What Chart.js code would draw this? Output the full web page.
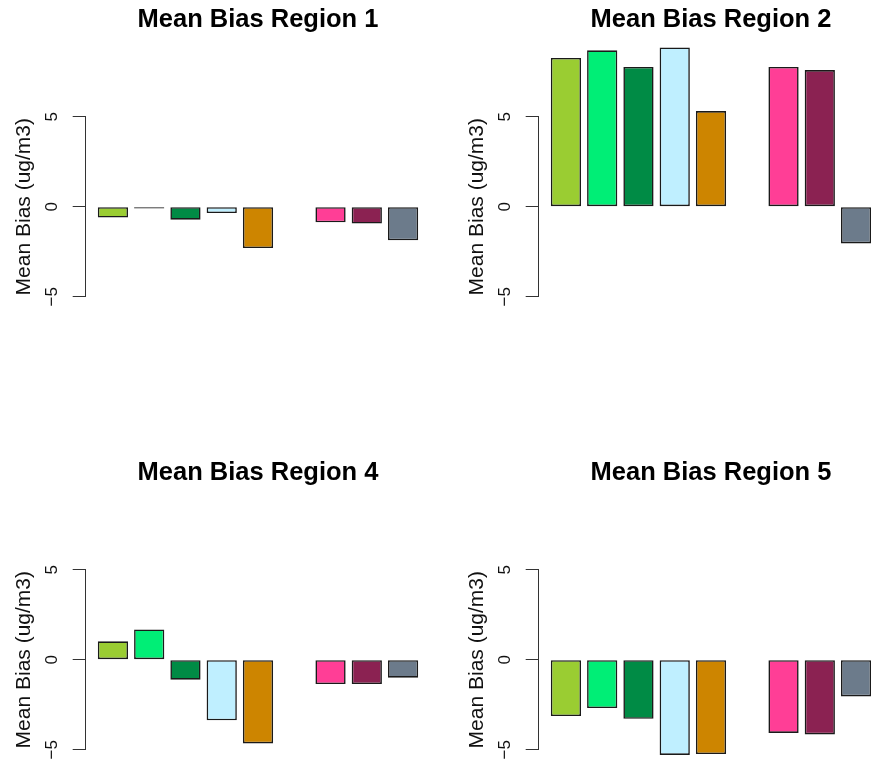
<!DOCTYPE html>
<html>
<head>
<meta charset="utf-8">
<script src="https://cdn.jsdelivr.net/npm/chart.js@4.4.1/dist/chart.umd.min.js"></script>
<style>
  html, body { margin: 0; padding: 0; background: #fff; }
  #fig { position: relative; width: 871px; height: 762px; overflow: hidden; background: #fff; }
  .panel { position: absolute; width: 454px; height: 454px; }
  .panel canvas { display: block; }
</style>
</head>
<body>
<div id="fig">
  <div class="panel" style="left:0px;top:0px"><canvas id="region1" width="454" height="454"></canvas></div>
  <div class="panel" style="left:453px;top:0px"><canvas id="region2" width="454" height="454"></canvas></div>
  <div class="panel" style="left:0px;top:453px"><canvas id="region4" width="454" height="454"></canvas></div>
  <div class="panel" style="left:453px;top:453px"><canvas id="region5" width="454" height="454"></canvas></div>
</div>
<script>
// Bar categories (slot 6 has no value and stays empty)
const categories = ['Case 1', 'Case 2', 'Case 3', 'Case 4', 'Case 5', 'Case 6', 'Case 7', 'Case 8', 'Case 9'];
const barColors = ['#9ACD32', '#00EE76', '#008B45', '#BFEFFF', '#CD8500', '#FFFFFF', '#FF3E96', '#8B2252', '#6C7B8B'];

// Mean bias per region (ug/m3)
const region1 = [-0.60, -0.10, -0.72, -0.35, -2.30, null, -0.87, -0.94, -1.87];
const region2 = [8.26, 8.69, 7.76, 8.85, 5.31, null, 7.76, 7.59, -2.04];
const region4 = [1.02, 1.68, -1.11, -3.37, -4.65, null, -1.35, -1.35, -1.00];
const region5 = [-3.13, -2.69, -3.28, -5.29, -5.24, null, -4.07, -4.15, -2.04];

const yTicks = [-5, 0, 5];
const panelTitles = ['Mean Bias Region 1', 'Mean Bias Region 2', 'Mean Bias Region 4', 'Mean Bias Region 5'];
const yAxisTitle = 'Mean Bias (ug/m3)';

Chart.defaults.font.family = '"Liberation Sans", Arial, Helvetica, sans-serif';
Chart.defaults.color = '#111';

// barplot-style x range: bars span slots, plus 4% padding on each side
const slotSpan = categories.length - 1 + 1 / 1.2;
const xPad = slotSpan * 0.04;
const xMin = -0.5 / 1.2 - xPad;
const xMax = categories.length - 1 + 0.5 / 1.2 + xPad;

function drawPanel(canvasId, title, values) {
  const ctx = document.getElementById(canvasId);
  new Chart(ctx, {
    type: 'bar',
    data: {
      datasets: [{
        data: values.map((v, i) => ({ x: i, y: v })),
        backgroundColor: barColors,
        borderColor: '#1a1a1a',
        borderWidth: 1.6,
        borderSkipped: false,
        inflateAmount: 0,
        categoryPercentage: 1,
        barPercentage: 1 / 1.2,
        clip: false
      }]
    },
    options: {
      responsive: false,
      animation: false,
      events: [],
      layout: { padding: { left: 12.1, right: 23, top: 0, bottom: 157.3 } },
      plugins: {
        legend: { display: false },
        tooltip: { enabled: false },
        title: {
          display: true,
          text: title,
          fullSize: false,
          color: '#000',
          font: { size: 25.5, weight: 'bold' },
          padding: { top: 4.5, bottom: 81.6 }
        }
      },
      scales: {
        x: {
          type: 'linear',
          display: false,
          offset: false,
          grid: { offset: false },
          min: xMin,
          max: xMax,
          afterBuildTicks: (s) => { s.ticks = categories.map((c, i) => ({ value: i })); }
        },
        y: {
          type: 'linear',
          min: -5,
          max: 5,
          afterBuildTicks: (s) => { s.ticks = yTicks.map(v => ({ value: v })); },
          afterFit: (s) => { s.width = 72.9; },
          border: { display: true, color: '#333', width: 1 },
          grid: { display: true, drawOnChartArea: false, drawTicks: true, tickLength: 12.3, color: '#333', lineWidth: 1 },
          ticks: {
            font: { size: 17 },
            color: '#111',
            minRotation: 90,
            maxRotation: 90,
            crossAlign: 'center',
            padding: 10.5,
            callback: (v) => String(v).replace('-', '\u2212')
          },
          title: {
            display: true,
            text: yAxisTitle,
            color: '#111',
            font: { size: 21 },
            padding: 0
          }
        }
      }
    }
  });
}

drawPanel('region1', panelTitles[0], region1);
drawPanel('region2', panelTitles[1], region2);
drawPanel('region4', panelTitles[2], region4);
drawPanel('region5', panelTitles[3], region5);
</script>
</body>
</html>
